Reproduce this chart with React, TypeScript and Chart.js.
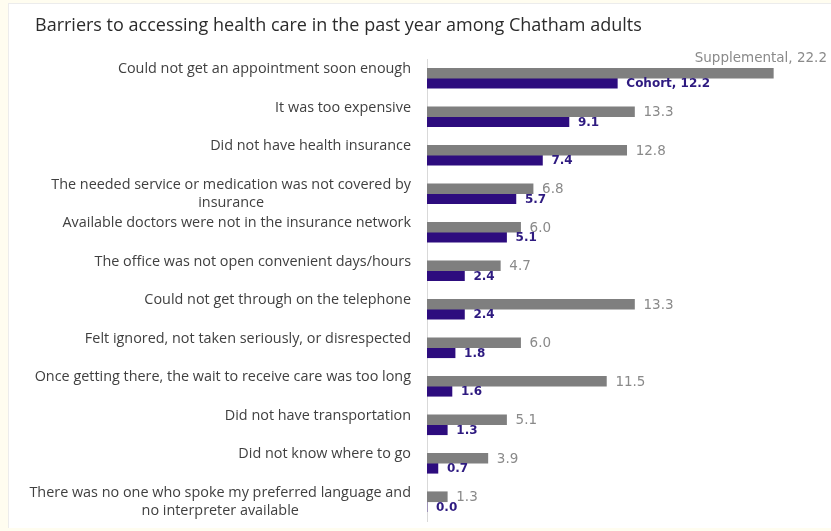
import React, { useEffect, useRef } from 'react';
import { Chart, registerables } from 'chart.js';

Chart.register(...registerables);

const TITLE = 'Barriers to accessing health care in the past year among Chatham adults';

const categories: string[][] = [
  ['Could not get an appointment soon enough'],
  ['It was too expensive'],
  ['Did not have health insurance'],
  ['The needed service or medication was not covered by', 'insurance'],
  ['Available doctors were not in the insurance network'],
  ['The office was not open convenient days/hours'],
  ['Could not get through on the telephone'],
  ['Felt ignored, not taken seriously, or disrespected'],
  ['Once getting there, the wait to receive care was too long'],
  ['Did not have transportation'],
  ['Did not know where to go'],
  ['There was no one who spoke my preferred language and', 'no interpreter available'],
];

const seriesNames = ['Supplemental', 'Cohort'];
const supplemental = [22.2, 13.3, 12.8, 6.8, 6.0, 4.7, 13.3, 6.0, 11.5, 5.1, 3.9, 1.3];
const cohort = [12.2, 9.1, 7.4, 5.7, 5.1, 2.4, 2.4, 1.8, 1.6, 1.3, 0.7, 0.0];

const GRAY = '#7f7f7f';
const PURPLE = '#2d0c7e';
const GRAY_TEXT = '#8a8a8a';
const PURPLE_TEXT = '#2e1a80';

const textPlugin = {
  id: 'customText',
  afterDatasetsDraw(chart: any) {
    const ctx: CanvasRenderingContext2D = chart.ctx;
    const yScale = chart.scales.y;
    const area = chart.chartArea;
    ctx.save();

    // title
    ctx.font = '18px "Open Sans"';
    ctx.fillStyle = '#2b2b2b';
    ctx.textAlign = 'left';
    ctx.textBaseline = 'alphabetic';
    ctx.fillText(TITLE, 35, 31);

    // category labels
    ctx.font = '14.4px "Open Sans"';
    ctx.fillStyle = '#404040';
    ctx.textBaseline = 'middle';
    ctx.textAlign = 'center';
    categories.forEach((lines, i) => {
      const cy = yScale.getPixelForValue(i);
      const maxW = Math.max(...lines.map((l) => ctx.measureText(l).width));
      const cx = area.left - 16 - maxW / 2;
      lines.forEach((l, j) => ctx.fillText(l, cx, cy - 9 + j * 18));
    });

    // data labels
    chart.data.datasets.forEach((ds: any, di: number) => {
      const meta = chart.getDatasetMeta(di);
      ctx.font = di === 0 ? '13.5px "DejaVu Sans"' : 'bold 12px "DejaVu Sans"';
      ctx.fillStyle = di === 0 ? GRAY_TEXT : PURPLE_TEXT;
      meta.data.forEach((bar: any, i: number) => {
        const v = ds.data[i] as number;
        const txt = i === 0 ? `${ds.label}, ${v.toFixed(1)}` : v.toFixed(1);
        const w = ctx.measureText(txt).width;
        let x = bar.x + 9;
        let y = bar.y + 1;
        ctx.textAlign = 'left';
        if (x + w > chart.width - 3) {
          x = chart.width - 4;
          y = bar.y - 15;
          ctx.textAlign = 'right';
        }
        ctx.fillText(txt, x, y);
      });
    });

    ctx.restore();
  },
};

export default function App() {
  const ref = useRef<HTMLCanvasElement>(null);

  useEffect(() => {
    const chart = new Chart(ref.current!, {
      type: 'bar',
      data: {
        labels: categories.map((c) => c.join(' ')),
        datasets: [
          {
            label: seriesNames[0],
            data: supplemental,
            backgroundColor: GRAY,
            barThickness: 10,
          },
          {
            label: seriesNames[1],
            data: cohort,
            backgroundColor: PURPLE,
            barThickness: 10,
          },
        ],
      },
      options: {
        indexAxis: 'y',
        responsive: false,
        animation: false,
        devicePixelRatio: 1,
        layout: { padding: { left: 427, right: 14, top: 59, bottom: 10 } },
        plugins: {
          legend: { display: false },
          tooltip: { enabled: false },
          title: { display: false },
        },
        scales: {
          x: { display: false, min: 0, max: 25 },
          y: {
            display: true,
            grid: { display: false, drawTicks: false, tickLength: 0 },
            ticks: { display: false, padding: 0 },
            border: { display: true, color: '#d9d9d9', width: 1 },
          },
        },
      },
      plugins: [textPlugin],
    });
    return () => chart.destroy();
  }, []);

  return (
    <div
      style={{
        position: 'fixed',
        left: 0,
        top: 0,
        width: 831,
        height: 531,
        background: '#fffdf0',
        overflow: 'hidden',
      }}
    >
      <div
        style={{
          position: 'absolute',
          left: 8,
          top: 3,
          width: 823,
          height: 525,
          background: '#ffffff',
          borderLeft: '1px solid #ececec',
          borderTop: '1px solid #ececec',
          boxSizing: 'border-box',
        }}
      />
      <canvas
        ref={ref}
        width={831}
        height={531}
        style={{ position: 'absolute', left: 0, top: 0, width: 831, height: 531 }}
      />
    </div>
  );
}
